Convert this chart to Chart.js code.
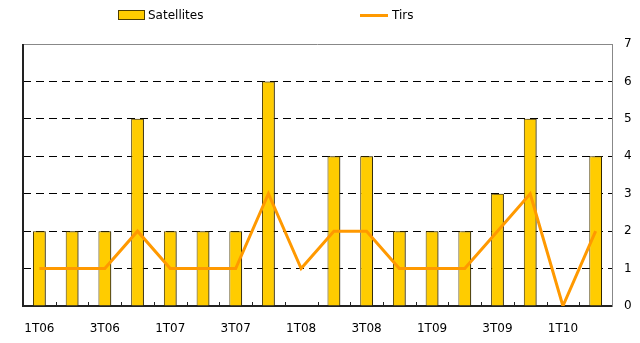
<!DOCTYPE html>
<html lang="fr">
<head>
  <meta charset="UTF-8" />
  <title>Satellites et tirs</title>
  <script src="https://cdn.jsdelivr.net/npm/chart.js"></script>
  <style>
    html, body {
      margin: 0;
      padding: 0;
      background: #ffffff;
    }

    .wrap {
      position: relative;
      width: 640px;
      height: 343px;
      font-family: "DejaVu Sans", Verdana, sans-serif;
    }

    .legend-item {
      position: absolute;
      top: 8px;
      font-size: 12px;
      color: #000;
      display: flex;
      align-items: center;
    }

    .swatch-bar {
      width: 25px;
      height: 8px;
      background: #ffcc00;
      border: 1px solid #4d3d00;
      margin-right: 3px;
    }

    .swatch-line {
      width: 28px;
      height: 3px;
      background: #ff9900;
      margin-right: 4px;
    }

    canvas {
      position: absolute;
      left: 0;
      top: 0;
    }
  </style>
</head>
<body>
  <div class="wrap">
    <canvas id="chart" width="640" height="343"></canvas>
    <div class="legend-item" style="left:118px"><span class="swatch-bar"></span>Satellites</div>
    <div class="legend-item" style="left:360px"><span class="swatch-line"></span>Tirs</div>
  </div>

  <script>
    const quarters = ['1T06', '2T06', '3T06', '4T06', '1T07', '2T07', '3T07', '4T07', '1T08',
                      '2T08', '3T08', '4T08', '1T09', '2T09', '3T09', '4T09', '1T10', '2T10'];
    const satellites = [2, 2, 2, 5, 2, 2, 2, 6, 0, 4, 4, 2, 2, 2, 3, 5, 0, 4];
    const tirs = [1, 1, 1, 2, 1, 1, 1, 3, 1, 2, 2, 1, 1, 1, 2, 3, 0, 2];
    const yTicks = [0, 1, 2, 3, 4, 5, 6, 7];

    // ombre grise à droite des barres
    const barShadow = {
      id: 'barShadow',
      beforeDatasetDraw(chart, args) {
        if (args.meta.type !== 'bar') return;
        const ctx = chart.ctx;
        ctx.save();
        ctx.shadowColor = 'rgba(0,0,0,0.4)';
        ctx.shadowOffsetX = 3;
        ctx.shadowOffsetY = 0;
        ctx.shadowBlur = 0;
      },
      afterDatasetDraw(chart, args) {
        if (args.meta.type !== 'bar') return;
        chart.ctx.restore();
      }
    };

    // cadre + petites graduations vers l'intérieur
    const frame = {
      id: 'frame',
      afterDraw(chart) {
        const { ctx, chartArea: a, scales } = chart;
        ctx.save();
        ctx.lineWidth = 1;
        ctx.strokeStyle = '#888888';
        ctx.beginPath();
        ctx.moveTo(a.left, a.top + 0.5);
        ctx.lineTo(a.right, a.top + 0.5);
        ctx.stroke();
        ctx.strokeStyle = '#222222';
        ctx.lineWidth = 2;
        ctx.beginPath();
        ctx.moveTo(a.left, a.top);
        ctx.lineTo(a.left, a.bottom);
        ctx.stroke();
        ctx.lineWidth = 1;
        ctx.strokeStyle = '#222222';
        const x = scales.x;
        const half = (x.getPixelForValue(1) - x.getPixelForValue(0)) / 2;
        for (let i = 1; i < quarters.length; i++) {
          const px = Math.round(x.getPixelForValue(i) - half) + 0.5;
          ctx.beginPath();
          ctx.moveTo(px, a.bottom);
          ctx.lineTo(px, a.bottom - 4);
          ctx.stroke();
        }
        ctx.restore();
      }
    };

    new Chart(document.getElementById('chart'), {
      data: {
        labels: quarters,
        datasets: [
          {
            type: 'line',
            label: 'Tirs',
            data: tirs,
            borderColor: '#ff9900',
            borderWidth: 3,
            pointRadius: 0,
            tension: 0,
            order: 0
          },
          {
            type: 'bar',
            label: 'Satellites',
            data: satellites,
            backgroundColor: '#ffcc00',
            borderColor: '#4d3d00',
            borderWidth: 1,
            barPercentage: 0.39,
            categoryPercentage: 1,
            order: 1
          }
        ]
      },
      options: {
        responsive: false,
        animation: false,
        layout: { padding: { left: 23, top: 44, right: 0, bottom: 0 } },
        plugins: {
          legend: { display: false },
          tooltip: { enabled: false }
        },
        scales: {
          x: {
            offset: true,
            grid: { display: false },
            border: { display: true, color: '#222222', width: 2 },
            ticks: {
              color: '#000',
              font: { family: 'DejaVu Sans', size: 12 },
              maxRotation: 0,
              autoSkip: false,
              padding: 8,
              callback: (v, i) => (i % 2 === 0 ? quarters[i] : '')
            },
            afterFit: s => { s.height = 37; }
          },
          y: {
            position: 'right',
            min: 0,
            max: 7,
            afterBuildTicks: s => { s.ticks = yTicks.map(v => ({ value: v })); },
            grid: {
              color: c => (c.tick.value === 0 || c.tick.value === 7 ? 'rgba(0,0,0,0)' : '#000000'),
              lineWidth: 1,
              drawTicks: false
            },
            border: { display: true, color: '#888888', width: 1, dash: [8, 5] },
            ticks: {
              color: '#000',
              font: { family: 'DejaVu Sans', size: 12 },
              padding: 12
            },
            afterFit: s => { s.width = 28; }
          }
        }
      },
      plugins: [barShadow, frame]
    });
  </script>
</body>
</html>
